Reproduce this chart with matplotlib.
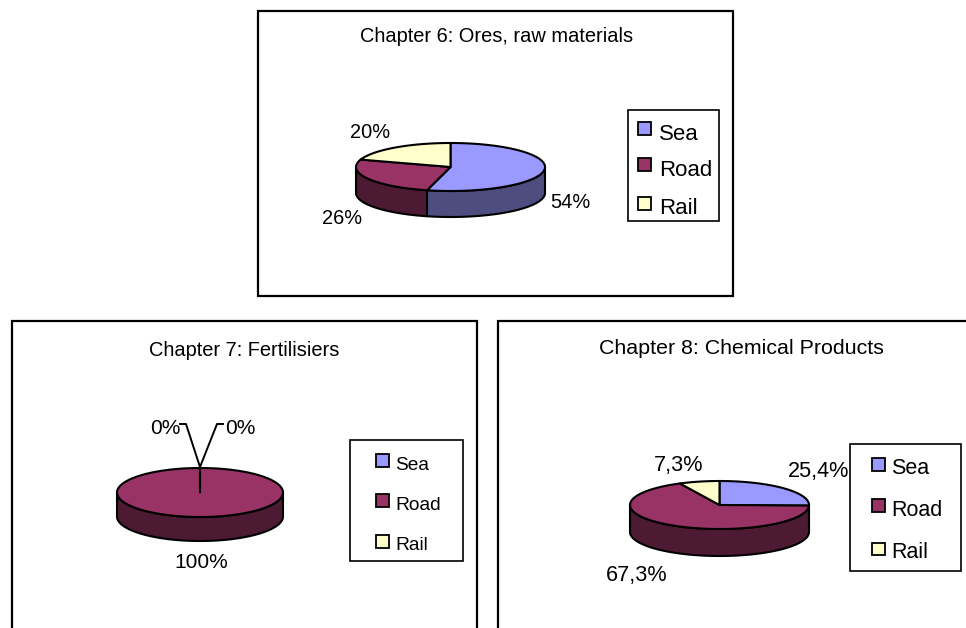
import numpy as np
import matplotlib
matplotlib.use("Agg")
import matplotlib.pyplot as plt
from matplotlib.patches import Polygon, Rectangle

plt.rcParams["font.family"] = ["Liberation Sans", "DejaVu Sans"]

modes = ["Sea", "Road", "Rail"]
colors = ["#9999FF", "#993366", "#FFFFCC"]
dark_colors = ["#4D4D80", "#4D1A33", "#80806A"]

ores_values = [54, 26, 20]
ores_labels = ["54%", "26%", "20%"]
fert_values = [0, 100, 0]
fert_labels = ["0%", "100%", "0%"]
chem_values = [25.4, 67.3, 7.3]
chem_labels = ["25,4%", "67,3%", "7,3%"]

LINE = 1.5


def ellipse_points(cx, cy, rx, ry, start, end):
    # angles run clockwise from 12 o'clock
    t = np.linspace(start, end, max(int(abs(end - start) * 2), 2))
    r = np.radians(t)
    return cx + rx * np.sin(r), cy - ry * np.cos(r)


def draw_pie(ax, values, cx, cy, rx, ry, depth):
    shares = np.array(values, dtype=float) / sum(values) * 360
    stops = np.concatenate([[0], np.cumsum(shares)])

    # side wall, only the part of each slice that faces the viewer
    for i in range(len(values)):
        start = max(stops[i], 90)
        end = min(stops[i + 1], 270)
        if end <= start:
            continue
        x, y = ellipse_points(cx, cy, rx, ry, start, end)
        xs = np.concatenate([x, x[::-1]])
        ys = np.concatenate([y, y[::-1] + depth])
        ax.add_patch(Polygon(np.column_stack([xs, ys]), closed=True, fc=dark_colors[i],
                             ec="black", lw=LINE, joinstyle="round"))

    # top face
    for i in range(len(values)):
        if shares[i] == 0:
            continue
        x, y = ellipse_points(cx, cy, rx, ry, stops[i], stops[i + 1])
        xs = np.concatenate([[cx], x])
        ys = np.concatenate([[cy], y])
        ax.add_patch(Polygon(np.column_stack([xs, ys]), closed=True, fc=colors[i],
                             ec="black", lw=LINE, joinstyle="round"))


def draw_legend(ax, box, swatch_x, swatch_size, text_x, swatch_rows, text_rows, fontsize):
    x0, y0, x1, y1 = box
    ax.add_patch(Rectangle((x0, y0), x1 - x0, y1 - y0, fc="white", ec="black", lw=1.2))
    for i, name in enumerate(modes):
        ax.add_patch(Rectangle((swatch_x, swatch_rows[i] - swatch_size / 2), swatch_size, swatch_size,
                               fc=colors[i], ec="black", lw=1.3))
        ax.text(text_x, text_rows[i], name, fontsize=fontsize, va="center", ha="left")


def draw_panel(ax, box, title, title_pos, title_size):
    x0, y0, x1, y1 = box
    ax.add_patch(Rectangle((x0, y0), x1 - x0, y1 - y0, fc="white", ec="black", lw=1.6))
    ax.text(title_pos[0], title_pos[1], title, fontsize=title_size, ha="center", va="center")


fig = plt.figure(figsize=(9.66, 6.28), dpi=100)
ax = fig.add_axes([0, 0, 1, 1])
ax.set_xlim(0, 966)
ax.set_ylim(628, 0)
ax.axis("off")

# Chapter 6
draw_panel(ax, (258, 11, 733, 296), "Chapter 6: Ores, raw materials", (497, 37), 14.4)
draw_pie(ax, ores_values, 450.5, 167, 94.5, 24, 26)
for label, pos in zip(ores_labels, [(570, 202), (342, 218), (370, 132)]):
    ax.text(pos[0], pos[1], label, fontsize=14.4, ha="center", va="center")
draw_legend(ax, (628, 110, 719, 221), 638, 13, 659, [128.5, 164.5, 203], [134.5, 170.5, 208.5], 16)

# Chapter 7
draw_panel(ax, (12, 320.5, 476.5, 640), "Chapter 7: Fertilisiers", (244, 351), 14.4)
draw_pie(ax, fert_values, 200, 492.5, 83, 24.5, 24)
ax.plot([200, 186, 180], [467, 424, 424], color="black", lw=1.4)
ax.plot([200, 217, 223], [467, 424, 424], color="black", lw=1.4)
for label, pos in zip(fert_labels, [(165, 429), (201, 562), (240, 429)]):
    ax.text(pos[0], pos[1], label, fontsize=15, ha="center", va="center")
draw_legend(ax, (350, 440, 463, 561), 376, 13, 395, [460.5, 500.5, 541], [465, 505, 545], 13.8)

# Chapter 8
draw_panel(ax, (498, 320.5, 980, 640), "Chapter 8: Chemical Products", (741, 349), 15.4)
draw_pie(ax, chem_values, 719.5, 505, 89.5, 24, 27)
for label, pos in zip(chem_labels, [(819, 471), (637, 575), (679, 466)]):
    ax.text(pos[0], pos[1], label, fontsize=15.6, ha="center", va="center")
draw_legend(ax, (850, 444, 961, 571), 872, 12.5, 891, [464.5, 505.5, 549], [469, 511, 553], 15.5)

fig.savefig("out.png", dpi=100)
